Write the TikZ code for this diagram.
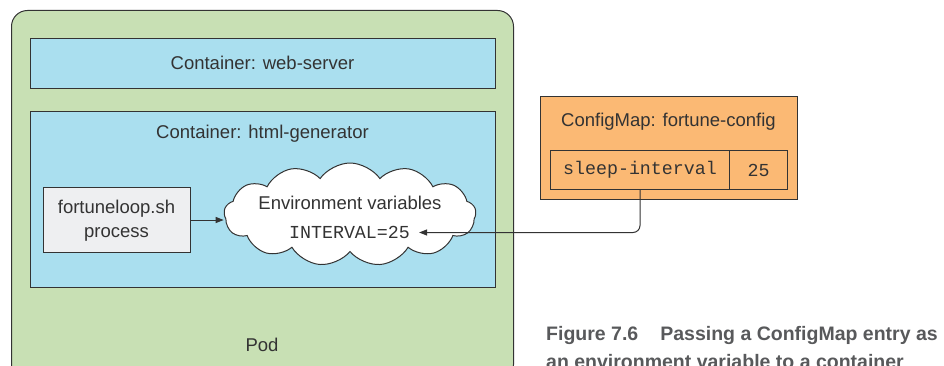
\documentclass[tikz,border=0pt]{standalone}
\usepackage{fontspec}
\setmainfont{Liberation Sans}
\setmonofont{Liberation Mono}
\usetikzlibrary{shapes.symbols,arrows.meta}
\definecolor{podgreen}{HTML}{C8E0B4}
\definecolor{contblue}{HTML}{AADFEF}
\definecolor{cmorange}{HTML}{FBB974}
\definecolor{procgray}{HTML}{EEEFF1}
\definecolor{ink}{HTML}{333333}
\definecolor{capgray}{HTML}{58595B}
\tikzset{
  box/.style={draw=ink, line width=1pt, inner sep=0pt, text=ink},
  lbl/.style={text=ink, inner sep=0pt, font=\fontsize{18.5}{22}\selectfont},
  mono/.style={text=ink, inner sep=0pt, font=\ttfamily\fontsize{18.3}{22}\selectfont},
  conn/.style={draw=ink, line width=1pt, -{Triangle[length=8pt,width=6pt]}},
  captxt/.style={anchor=base west, inner sep=0pt, text=capgray, font=\bfseries\fontsize{19.5}{24}\selectfont},
}
\begin{document}
\begin{tikzpicture}[x=1pt,y=-1pt]
\clip (0,0) rectangle (944,366);
% pod
\node[box, fill=podgreen, rounded corners=16pt, minimum width=502pt, minimum height=370pt, anchor=north west] (pod) at (11,10) {};
\node[lbl] (podlbl) at (262,345) {Pod};
% web-server
\node[box, fill=contblue, minimum width=465pt, minimum height=50pt, anchor=north west] (web) at (30,38.5) {};
\node[lbl] (weblbl) at (262.5,63) {Container: web-server};
% html-generator
\node[box, fill=contblue, minimum width=465pt, minimum height=176pt, anchor=north west] (html) at (30,111) {};
\node[lbl] (htmllbl) at (262.5,134) {Container: html-generator};
% process
\node[box, fill=procgray, minimum width=147pt, minimum height=65pt, anchor=north west] (proc) at (43,187) {};
\node[lbl, align=center, font=\fontsize{18.5}{24}\selectfont] (proclbl) at (116.5,221) {fortuneloop.sh\\process};
% cloud
\node[cloud, draw=ink, line width=1pt, fill=white, cloud puffs=13, cloud puff arc=110, aspect=2.4, minimum width=252pt, minimum height=103pt, inner sep=0pt] (env) at (350,214.5) {};
\node[lbl] (envlbl) at (350,203) {Environment variables};
\node[mono] (interval) at (349.5,232.5) {INTERVAL=25};
% configmap
\node[box, fill=cmorange, minimum width=257pt, minimum height=103pt, anchor=north west] (cm) at (540,96) {};
\node[lbl] (cmlbl) at (668.5,122) {ConfigMap: fortune-config};
\node[box, fill=cmorange, minimum width=179pt, minimum height=39pt, anchor=north west] (key) at (550,150) {};
\node[mono] at (key.center) (keylbl) {sleep-interval};
\node[box, fill=cmorange, minimum width=58pt, minimum height=39pt, anchor=north west] (val) at (729,150) {};
\node[mono] at (val.center) (vallbl) {25};
% connectors
\draw[conn] (proc.east) -- (proc.east -| env.west);
\draw[conn, rounded corners=7pt] (key.south) |- ([xshift=9pt]interval.east);
% caption
\node[captxt] (cap) at (546,340) {Figure 7.6\hspace{22pt}Passing a ConfigMap entry as};
\node[captxt] (cap2) at (546,368) {an environment variable to a container};
\end{tikzpicture}
\end{document}
